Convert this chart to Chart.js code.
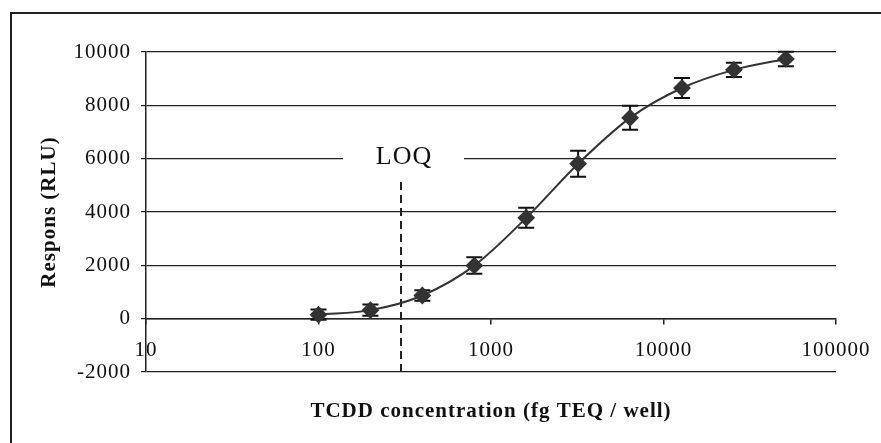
<!DOCTYPE html>
<html>
<head>
<meta charset="utf-8">
<script src="https://cdn.jsdelivr.net/npm/chart.js@4/dist/chart.umd.min.js"></script>
<style>
  body { margin: 0; background: #fff; }
</style>
</head>
<body>
<canvas id="curva" width="881" height="443"></canvas>
<script>
const concentracoes = [100, 200, 400, 800, 1600, 3200, 6400, 12800, 25600, 51200];
const respostas = [150, 320, 870, 1990, 3780, 5810, 7530, 8650, 9330, 9740];
const erros = [190, 210, 200, 310, 375, 490, 450, 375, 270, 270];
const ticksX = [10, 100, 1000, 10000, 100000];
const ticksY = [-2000, 0, 2000, 4000, 6000, 8000, 10000];
const loq = 300;

Chart.defaults.font.family = "'Liberation Serif', 'Times New Roman', serif";
Chart.defaults.font.size = 21;
Chart.defaults.color = '#111';

// borda, LOQ, barras de erro e titulos dos eixos
const extras = {
    id: 'extras',
    beforeLayout(chart) {
        chart.ctx.letterSpacing = '1px';
    },
    beforeDraw(chart) {
        const ctx = chart.ctx;
        ctx.letterSpacing = '1px';
        ctx.save();
        ctx.fillStyle = '#fff';
        ctx.fillRect(0, 0, chart.width, chart.height);
        ctx.strokeStyle = '#222';
        ctx.lineWidth = 2;
        ctx.strokeRect(11, 13, chart.width + 20, chart.height + 20);
        ctx.restore();
    },
    beforeDatasetsDraw(chart) {
        const { ctx, scales: { x, y } } = chart;
        const px = Math.round(x.getPixelForValue(loq));
        ctx.save();
        ctx.fillStyle = '#fff';
        ctx.fillRect(343, y.getPixelForValue(6000) - 4, 121, 8);

        ctx.strokeStyle = '#222';
        ctx.lineWidth = 2;
        ctx.setLineDash([8, 5]);
        ctx.beginPath();
        ctx.moveTo(px, 182);
        ctx.lineTo(px, y.bottom);
        ctx.stroke();
        ctx.setLineDash([]);

        ctx.fillStyle = '#111';
        ctx.font = "26px 'Liberation Serif', serif";
        ctx.textAlign = 'center';
        ctx.textBaseline = 'alphabetic';
        ctx.fillText('LOQ', px + 3, 164);

        ctx.strokeStyle = '#111';
        ctx.lineWidth = 2;
        concentracoes.forEach((c, i) => {
            const cx = x.getPixelForValue(c);
            const topo = y.getPixelForValue(respostas[i] + erros[i]);
            const base = y.getPixelForValue(respostas[i] - erros[i]);
            ctx.beginPath();
            ctx.moveTo(cx, topo);
            ctx.lineTo(cx, base);
            ctx.moveTo(cx - 8, topo);
            ctx.lineTo(cx + 8, topo);
            ctx.moveTo(cx - 8, base);
            ctx.lineTo(cx + 8, base);
            ctx.stroke();
        });
        ctx.restore();
    },
    afterDraw(chart) {
        const { ctx, scales: { x, y } } = chart;
        ctx.save();
        ctx.fillStyle = '#111';
        ctx.font = "bold 21px 'Liberation Serif', serif";
        ctx.textAlign = 'center';
        ctx.textBaseline = 'alphabetic';
        ctx.fillText('TCDD concentration (fg TEQ / well)', (x.left + x.right) / 2, 417);
        ctx.translate(55, (y.top + y.bottom) / 2);
        ctx.rotate(-Math.PI / 2);
        ctx.fillText('Respons (RLU)', 0, 0);
        ctx.restore();
    }
};

new Chart(document.getElementById('curva').getContext('2d'), {
    type: 'line',
    data: {
        datasets: [{
            label: 'Respons',
            data: concentracoes.map((c, i) => ({ x: c, y: respostas[i] })),
            borderColor: '#333',
            borderWidth: 2,
            pointStyle: 'rectRot',
            pointRadius: 7.5,
            pointBackgroundColor: '#333',
            pointBorderColor: '#333',
            cubicInterpolationMode: 'monotone'
        }]
    },
    options: {
        responsive: false,
        animation: false,
        layout: { padding: { top: 52, right: 45, bottom: 71, left: 0 } },
        plugins: { legend: { display: false }, tooltip: { enabled: false } },
        scales: {
            x: {
                type: 'logarithmic',
                min: 10,
                max: 100000,
                position: { y: 0 },
                afterBuildTicks: s => { s.ticks = ticksX.map(v => ({ value: v })); },
                afterFit: s => { s.paddingLeft = 0; s.paddingRight = 0; },
                ticks: { callback: v => String(v), autoSkip: false, maxRotation: 0, padding: 14 },
                grid: { drawOnChartArea: false, tickLength: 5, color: '#222', lineWidth: 1.5 },
                border: { color: '#222', width: 1.5 }
            },
            y: {
                min: -2000,
                max: 10000,
                afterBuildTicks: s => { s.ticks = ticksY.map(v => ({ value: v })); },
                afterFit: s => { s.width = 146; },
                ticks: { callback: v => String(v), padding: 10 },
                grid: { color: '#222', lineWidth: 1.2, tickLength: 5 },
                border: { color: '#222', width: 1.5 }
            }
        }
    },
    plugins: [extras]
});
</script>
</body>
</html>
